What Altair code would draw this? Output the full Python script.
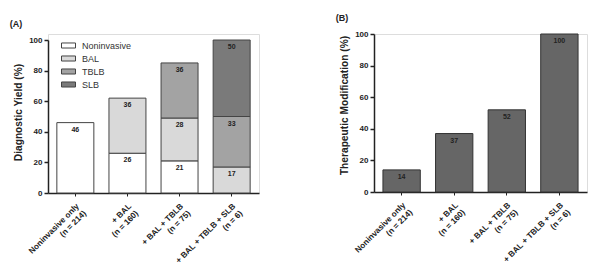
import altair as alt
import pandas as pd

groups = ["Noninvasive only|(n = 214)", "+ BAL|(n = 160)", "+ BAL + TBLB|(n = 75)", "+ BAL + TBLB + SLB|(n = 6)"]
methods = ["Noninvasive", "BAL", "TBLB", "SLB"]
method_colors = ["#ffffff", "#d9d9d9", "#a3a3a3", "#7a7a7a"]

# diagnostic yield per group, per method
noninvasive = [46, 26, 21, 0]
bal = [0, 36, 28, 17]
tblb = [0, 0, 36, 33]
slb = [0, 0, 0, 50]

therapeutic = [14, 37, 52, 100]

rows = []
series = [noninvasive, bal, tblb, slb]
for gi, g in enumerate(groups):
    base = 0
    for mi, m in enumerate(methods):
        v = series[mi][gi]
        if v > 0:
            rows.append({"group": g, "method": m, "y0": base, "y1": base + v, "label": str(v)})
        base += v
dfA = pd.DataFrame(rows)
dfB = pd.DataFrame({"group": groups, "value": therapeutic})

FONT = "Liberation Sans"
INK = "#222"

# two-line labels; the shorter line is padded with no-break spaces so it sits centred
L0 = "split(datum.label, '|')[0]"
L1 = "split(datum.label, '|')[1]"
NB = "'\u00a0'"
label_expr = (
    f"[length({L0}) < length({L1}) ? pad({L0}, length({L0}) + round(0.9*(length({L1}) - length({L0}))), {NB}, 'left') : {L0}, "
    f"length({L1}) < length({L0}) ? pad({L1}, length({L1}) + round(0.9*(length({L0}) - length({L1}))), {NB}, 'left') : {L1}]"
)

xaxis = alt.Axis(
    title=None, labelAngle=-45, labelAlign="right", labelBaseline="top",
    labelExpr=label_expr, labelFontSize=8.2, labelFontWeight="bold",
    labelFont=FONT, labelColor=INK, tickSize=3, tickColor=INK, domainColor=INK,
    domainWidth=1.5, tickWidth=1, labelPadding=6, labelLineHeight=10, labelOverlap=False,
)

def yaxis(title, title_y):
    return alt.Axis(
        title=title, values=[0, 20, 40, 60, 80, 100], tickCount=10, labelFontSize=8,
        labelFontWeight="bold", labelFont=FONT, labelColor=INK, tickSize=4, tickColor=INK,
        tickWidth=1.5, domainColor=INK, domainWidth=1.5, grid=False, titleFont=FONT,
        titleFontSize=10.2, titleFontWeight="bold", titleColor=INK, titlePadding=5,
        titleY=title_y, labelPadding=2, labelOverlap=False, labelFlush=False,
    )

xscale = alt.Scale(paddingInner=0.29, paddingOuter=0.17)

HA = 159
barsA = alt.Chart(dfA).mark_bar(stroke="#444", strokeWidth=1).encode(
    x=alt.X("group:N", sort=groups, axis=xaxis, scale=xscale),
    y=alt.Y("y0:Q", scale=alt.Scale(domain=[0, 100], nice=False, range=[HA, 6]),
            axis=yaxis("Diagnostic Yield (%)", 78)),
    y2="y1:Q",
    color=alt.Color("method:N", scale=alt.Scale(domain=methods, range=method_colors),
                    sort=methods,
                    legend=alt.Legend(title=None, orient="none", legendX=13, legendY=4,
                                      symbolType="M-1,-0.36H1V0.36H-1Z", symbolSize=196,
                                      symbolStrokeColor="#444", symbolStrokeWidth=1,
                                      symbolOpacity=1, labelFont=FONT, labelFontSize=9,
                                      labelColor="#333", rowPadding=-3, labelOffset=6)),
)
textA = alt.Chart(dfA).mark_text(baseline="top", dy=3, font=FONT, fontSize=7, fontWeight="bold",
                                 color=INK).encode(
    x=alt.X("group:N", sort=groups),
    y=alt.Y("y1:Q"),
    text="label:N",
)
chartA = alt.layer(barsA, textA).properties(
    width=211, height=HA,
    title=alt.TitleParams("(A)", anchor="start", font=FONT, fontSize=9, fontWeight="bold",
                          color=INK, offset=5, dx=-4),
)

barsB = alt.Chart(dfB).mark_bar(color="#666666", stroke="#333", strokeWidth=1).encode(
    x=alt.X("group:N", sort=groups, axis=xaxis, scale=xscale),
    y=alt.Y("value:Q", scale=alt.Scale(domain=[0, 100], nice=False),
            axis=yaxis("Therapeutic Modification (%)", 71)),
)
textB = alt.Chart(dfB).mark_text(baseline="top", dy=3, font=FONT, fontSize=7, fontWeight="bold",
                                 color=INK).encode(
    x=alt.X("group:N", sort=groups),
    y=alt.Y("value:Q"),
    text="value:Q",
)
chartB = alt.layer(barsB, textB).properties(
    width=213, height=158,
    title=alt.TitleParams("(B)", anchor="start", font=FONT, fontSize=9, fontWeight="bold",
                          color=INK, offset=7, dx=-4),
)

chart = alt.hconcat(chartA, chartB, spacing=75).properties(
    padding={"left": 9, "top": 13, "right": 5, "bottom": 5}
).configure_view(stroke=None).configure(background="white")

chart.save("out.html", embed_options={"renderer": "svg", "actions": False})
